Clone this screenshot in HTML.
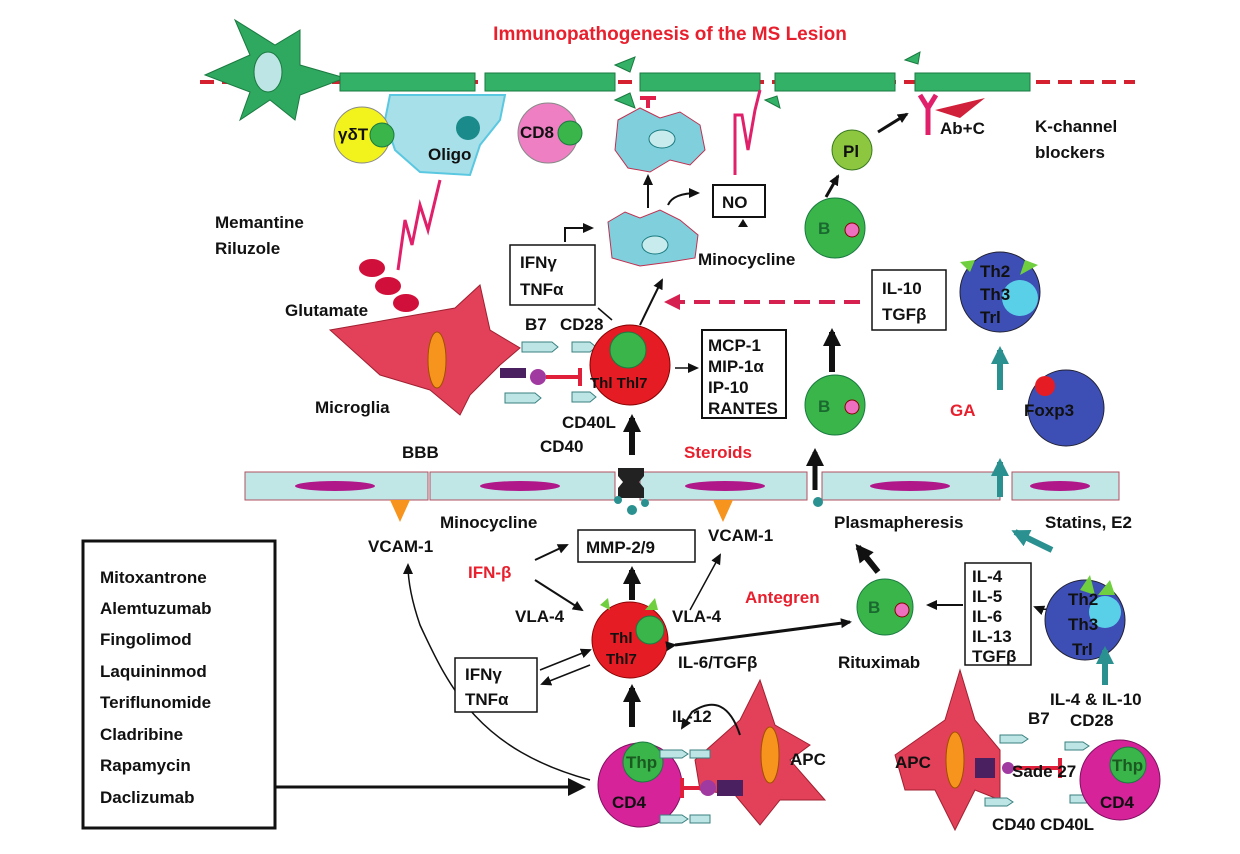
<!DOCTYPE html>
<html><head><meta charset="utf-8"><style>
html,body{margin:0;padding:0;background:#fff}
svg{display:block}
text{font-family:"Liberation Sans",sans-serif;font-weight:bold;font-size:17px;fill:#111}
.r{fill:#e8202e}
</style></head><body>
<svg width="1240" height="854" viewBox="0 0 1240 854" xmlns="http://www.w3.org/2000/svg">
<defs>
<marker id="a" markerUnits="userSpaceOnUse" markerWidth="12" markerHeight="12" refX="9" refY="6" orient="auto"><path d="M0,1 L11,6 L0,11 z" fill="#111"/></marker>
<marker id="b" markerUnits="userSpaceOnUse" markerWidth="20" markerHeight="20" refX="14" refY="10" orient="auto"><path d="M0,1 L18,10 L0,19 z" fill="#111"/></marker>
<marker id="c" markerUnits="userSpaceOnUse" markerWidth="20" markerHeight="20" refX="14" refY="10" orient="auto"><path d="M0,1 L18,10 L0,19 z" fill="#2a9090"/></marker>
</defs>
<text x="670" y="40" text-anchor="middle" class="r" style="font-size:19px">Immunopathogenesis of the MS Lesion</text>
<line x1="200" y1="82" x2="1135" y2="82" stroke="#d52030" stroke-width="4" stroke-dasharray="14,8"/>
<!-- neuron -->
<path d="M205,75 L250,55 L235,20 L275,45 L300,30 L300,65 L345,78 L300,95 L295,120 L270,100 L240,120 L250,92 Z" fill="#2fa860" stroke="#1a7a40"/>
<ellipse cx="268" cy="72" rx="14" ry="20" fill="#bde5e5" stroke="#1a7a40"/>
<g fill="#33b267" stroke="#1a7a40">
<rect x="340" y="73" width="135" height="18"/><rect x="485" y="73" width="130" height="18"/>
<rect x="640" y="73" width="120" height="18"/><rect x="775" y="73" width="120" height="18"/><rect x="915" y="73" width="115" height="18"/>
<path d="M615,65 l20,-8 l-5,15z M615,100 l20,8 l-5,-15z M765,100 l15,8 l-3,-12z M905,60 l15,-8 l-2,12z"/>
</g>
<!-- oligo -->
<path d="M390,95 L505,95 L500,120 L480,145 L470,175 L420,172 L395,150 L385,120 Z" fill="#a8e0ea" stroke="#5ac8e0" stroke-width="2"/>
<circle cx="468" cy="128" r="12" fill="#1a8a8a"/>
<text x="428" y="160">Oligo</text>
<circle cx="362" cy="135" r="28" fill="#f2f21c" stroke="#888"/>
<circle cx="382" cy="135" r="12" fill="#39b54a" stroke="#1a7a40"/>
<text x="338" y="140">γδT</text>
<circle cx="548" cy="133" r="30" fill="#ef7fc3" stroke="#888"/>
<circle cx="570" cy="133" r="12" fill="#39b54a" stroke="#1a7a40"/>
<text x="520" y="138">CD8</text>
<!-- macrophages -->
<path d="M618,120 L640,108 L660,118 L680,112 L700,125 L705,150 L690,165 L670,160 L650,172 L628,168 L615,150 Z" fill="#7fd0dc" stroke="#c03050"/>
<ellipse cx="662" cy="139" rx="13" ry="9" fill="#c8ecee" stroke="#1a7a80"/>
<path d="M648,108 v-10 h-8 h16" stroke="#e01f4a" stroke-width="4" fill="none"/>
<path d="M608,222 L625,212 L640,218 L660,210 L680,220 L698,235 L695,258 L670,262 L640,266 L612,258 Z" fill="#7fd0dc" stroke="#c03050"/>
<ellipse cx="655" cy="245" rx="13" ry="9" fill="#c8ecee" stroke="#1a7a80"/>
<line x1="648" y1="208" x2="648" y2="176" stroke="#111" stroke-width="2" marker-end="url(#a)"/>
<path d="M668,205 q5,-12 30,-12" stroke="#111" stroke-width="2" fill="none" marker-end="url(#a)"/>
<path d="M735,175 L735,115 L742,115 L748,150 L755,110 L760,90" stroke="#e0206a" stroke-width="3" fill="none"/>
<rect x="713" y="185" width="52" height="32" fill="#fff" stroke="#111" stroke-width="2"/>
<text x="722" y="208">NO</text>
<path d="M738,227 l5,-8 l5,8z" fill="#111"/>
<text x="698" y="265">Minocycline</text>
<!-- Pl, B -->
<circle cx="852" cy="150" r="20" fill="#8dc63f" stroke="#3a7a20"/>
<text x="843" y="157">Pl</text>
<line x1="878" y1="132" x2="907" y2="114" stroke="#111" stroke-width="3" marker-end="url(#a)"/>
<path d="M920,95 L928,108 L936,95 M928,108 V135" stroke="#e0206a" stroke-width="5" fill="none"/>
<path d="M935,110 L985,98 L960,118 Z" fill="#d0203a"/>
<text x="940" y="134">Ab+C</text>
<text x="1035" y="132">K-channel</text>
<text x="1035" y="158">blockers</text>
<circle cx="835" cy="228" r="30" fill="#39b54a" stroke="#1a7a40"/>
<circle cx="852" cy="230" r="7" fill="#ee6fbf" stroke="#800"/>
<text x="818" y="234" style="fill:#1a6a30">B</text>
<line x1="826" y1="197" x2="838" y2="176" stroke="#111" stroke-width="3" marker-end="url(#a)"/>
<!-- left side texts -->
<text x="215" y="228">Memantine</text>
<text x="215" y="254">Riluzole</text>
<path d="M398,270 L405,220 L412,245 L420,205 L428,230 L440,180" stroke="#e0206a" stroke-width="3" fill="none"/>
<ellipse cx="372" cy="268" rx="13" ry="9" fill="#d0103a"/>
<ellipse cx="388" cy="286" rx="13" ry="9" fill="#d0103a"/>
<ellipse cx="406" cy="303" rx="13" ry="9" fill="#d0103a"/>
<text x="285" y="316">Glutamate</text>
<!-- IFN box -->
<rect x="510" y="245" width="85" height="60" fill="#fff" stroke="#111" stroke-width="1.5"/>
<text x="520" y="268">IFNγ</text><text x="520" y="295">TNFα</text>
<path d="M565,242 V228 H592" stroke="#111" stroke-width="2" fill="none" marker-end="url(#a)"/>
<line x1="598" y1="308" x2="612" y2="320" stroke="#111" stroke-width="1.5"/>
<path d="M640,325 q12,-25 22,-45" stroke="#111" stroke-width="2" fill="none" marker-end="url(#a)"/>
<!-- microglia -->
<path d="M330,330 L455,308 L480,285 L490,330 L520,348 L500,365 L470,395 L460,415 L430,390 L380,375 Z" fill="#e3405a" stroke="#a02030"/>
<ellipse cx="437" cy="360" rx="9" ry="28" fill="#f7941d" stroke="#a05000"/>
<text x="315" y="413">Microglia</text>
<g fill="#bde5e5" stroke="#3a8080"><path d="M522,342 h30 l6,5 l-6,5 h-30z M572,342 h18 l6,5 l-6,5 h-18z M505,393 h30 l6,5 l-6,5 h-30z M572,392 h18 l6,5 l-6,5 h-18z"/></g>
<rect x="500" y="368" width="26" height="10" fill="#4a2060"/>
<circle cx="538" cy="377" r="8" fill="#a03aa0"/>
<path d="M546,377 H580 M580,368 V386" stroke="#e0203a" stroke-width="4"/>
<text x="525" y="330">B7</text><text x="560" y="330">CD28</text>
<circle cx="630" cy="365" r="40" fill="#e51c24" stroke="#800"/>
<circle cx="628" cy="350" r="18" fill="#39b54a" stroke="#1a7a40"/>
<text x="590" y="388" style="font-size:15px">Thl Thl7</text>
<text x="562" y="428">CD40L</text><text x="540" y="452">CD40</text>
<line x1="675" y1="368" x2="697" y2="368" stroke="#111" stroke-width="1.5" marker-end="url(#a)"/>
<rect x="702" y="330" width="84" height="88" fill="#fff" stroke="#111" stroke-width="2"/>
<text x="708" y="351">MCP-1</text><text x="708" y="372">MIP-1α</text><text x="708" y="393">IP-10</text><text x="708" y="414">RANTES</text>
<line x1="632" y1="455" x2="632" y2="418" stroke="#111" stroke-width="6" marker-end="url(#b)"/>
<!-- right mid -->
<line x1="860" y1="302" x2="676" y2="302" stroke="#d52050" stroke-width="4" stroke-dasharray="16,9"/>
<path d="M680,294 L664,302 L680,310z" fill="#d52050"/>
<rect x="872" y="270" width="74" height="60" fill="#fff" stroke="#111" stroke-width="1.5"/>
<text x="882" y="294">IL-10</text><text x="882" y="320">TGFβ</text>
<circle cx="1000" cy="292" r="40" fill="#3d4fb5" stroke="#223"/>
<circle cx="1020" cy="298" r="18" fill="#5ad0e8"/>
<path d="M960,262 l10,10 l5,-12 z M1025,260 l-5,15 l18,-10z" fill="#6fcf3f"/>
<text x="980" y="277">Th2</text><text x="980" y="300">Th3</text><text x="980" y="323">Trl</text>
<line x1="832" y1="372" x2="832" y2="332" stroke="#111" stroke-width="6" marker-end="url(#b)"/>
<circle cx="835" cy="405" r="30" fill="#39b54a" stroke="#1a7a40"/>
<circle cx="852" cy="407" r="7" fill="#ee6fbf" stroke="#800"/>
<text x="818" y="412" style="fill:#1a6a30">B</text>
<line x1="1000" y1="390" x2="1000" y2="350" stroke="#2a9090" stroke-width="6" marker-end="url(#c)"/>
<text x="950" y="416" class="r">GA</text>
<circle cx="1066" cy="408" r="38" fill="#3d4fb5" stroke="#223"/>
<circle cx="1045" cy="386" r="10" fill="#e51c24"/>
<text x="1024" y="416">Foxp3</text>
<text x="402" y="458">BBB</text>
<text x="684" y="458" class="r">Steroids</text>
<!-- BBB -->
<g fill="#c0e6e6" stroke="#b05060">
<rect x="245" y="472" width="183" height="28"/><rect x="430" y="472" width="185" height="28"/>
<rect x="640" y="472" width="167" height="28"/><rect x="822" y="472" width="178" height="28"/><rect x="1012" y="472" width="107" height="28"/>
</g>
<g fill="#b0188a"><ellipse cx="335" cy="486" rx="40" ry="5"/><ellipse cx="520" cy="486" rx="40" ry="5"/><ellipse cx="725" cy="486" rx="40" ry="5"/><ellipse cx="910" cy="486" rx="40" ry="5"/><ellipse cx="1060" cy="486" rx="30" ry="5"/></g>
<path d="M390,500 l10,22 l10,-22z M713,500 l10,22 l10,-22z" fill="#f7941d"/>
<path d="M618,468 h26 v8 l-5,6 l5,6 v10 h-26 v-10 l5,-6 l-5,-6z" fill="#222"/>
<g fill="#2a9090"><circle cx="632" cy="510" r="5"/><circle cx="618" cy="500" r="4"/><circle cx="645" cy="503" r="4"/><circle cx="818" cy="502" r="5"/></g>
<line x1="815" y1="490" x2="815" y2="452" stroke="#111" stroke-width="5" marker-end="url(#b)"/>
<line x1="1000" y1="497" x2="1000" y2="462" stroke="#2a9090" stroke-width="6" marker-end="url(#c)"/>
<text x="440" y="528">Minocycline</text>
<text x="368" y="552">VCAM-1</text>
<rect x="578" y="530" width="117" height="32" fill="#fff" stroke="#111" stroke-width="1.5"/>
<text x="586" y="553">MMP-2/9</text>
<text x="708" y="541">VCAM-1</text>
<text x="834" y="528">Plasmapheresis</text>
<text x="1045" y="528">Statins, E2</text>
<line x1="1052" y1="550" x2="1015" y2="532" stroke="#2a9090" stroke-width="6" marker-end="url(#c)"/>
<!-- drug box -->
<rect x="83" y="541" width="192" height="287" fill="#fff" stroke="#111" stroke-width="3"/>
<text x="100" y="583">Mitoxantrone</text><text x="100" y="614">Alemtuzumab</text><text x="100" y="645">Fingolimod</text><text x="100" y="677">Laquininmod</text><text x="100" y="708">Teriflunomide</text><text x="100" y="740">Cladribine</text><text x="100" y="771">Rapamycin</text><text x="100" y="803">Daclizumab</text>
<line x1="275" y1="787" x2="582" y2="787" stroke="#111" stroke-width="3" marker-end="url(#b)"/>
<!-- lower mid -->
<text x="468" y="578" class="r">IFN-β</text>
<line x1="535" y1="560" x2="567" y2="545" stroke="#111" stroke-width="2" marker-end="url(#a)"/>
<line x1="535" y1="580" x2="582" y2="610" stroke="#111" stroke-width="2" marker-end="url(#a)"/>
<line x1="632" y1="600" x2="632" y2="570" stroke="#111" stroke-width="6" marker-end="url(#b)"/>
<line x1="690" y1="610" x2="720" y2="555" stroke="#111" stroke-width="1.5" marker-end="url(#a)"/>
<path d="M590,780 C480,750 450,690 420,625 Q408,590 408,565" stroke="#111" stroke-width="1.5" fill="none" marker-end="url(#a)"/>
<text x="515" y="622">VLA-4</text>
<circle cx="630" cy="640" r="38" fill="#e51c24" stroke="#800"/>
<circle cx="650" cy="630" r="14" fill="#39b54a" stroke="#1a7a40"/>
<path d="M600,605 l10,5 l-2,-12z M645,610 l10,-12 l3,12z" fill="#6fcf3f"/>
<text x="610" y="643" style="font-size:15px">Thl</text><text x="606" y="664" style="font-size:15px">Thl7</text>
<text x="672" y="622">VLA-4</text>
<text x="745" y="603" class="r">Antegren</text>
<line x1="675" y1="645" x2="850" y2="622" stroke="#111" stroke-width="3" marker-end="url(#a)" marker-start="url(#a)"/>
<text x="678" y="668">IL-6/TGFβ</text>
<line x1="878" y1="572" x2="858" y2="547" stroke="#111" stroke-width="6" marker-end="url(#b)"/>
<circle cx="885" cy="607" r="28" fill="#39b54a" stroke="#1a7a40"/>
<circle cx="902" cy="610" r="7" fill="#ee6fbf" stroke="#800"/>
<text x="868" y="613" style="fill:#1a6a30">B</text>
<text x="838" y="668">Rituximab</text>
<line x1="963" y1="605" x2="928" y2="605" stroke="#111" stroke-width="2" marker-end="url(#a)"/>
<rect x="965" y="563" width="66" height="102" fill="#fff" stroke="#111" stroke-width="1.5"/>
<text x="972" y="582">IL-4</text><text x="972" y="602">IL-5</text><text x="972" y="622">IL-6</text><text x="972" y="642">IL-13</text><text x="972" y="662">TGFβ</text>
<path d="M1065,595 q-10,20 -30,12" stroke="#111" stroke-width="1.5" fill="none" marker-end="url(#a)"/>
<circle cx="1085" cy="620" r="40" fill="#3d4fb5" stroke="#223"/>
<circle cx="1105" cy="612" r="16" fill="#5ad0e8"/>
<path d="M1080,590 l15,5 l-5,-20z M1098,595 l12,-15 l5,15z" fill="#6fcf3f"/>
<text x="1068" y="605">Th2</text><text x="1068" y="630">Th3</text><text x="1072" y="655">Trl</text>
<line x1="1105" y1="685" x2="1105" y2="650" stroke="#2a9090" stroke-width="6" marker-end="url(#c)"/>
<rect x="455" y="658" width="82" height="54" fill="#fff" stroke="#111" stroke-width="1.5"/>
<text x="465" y="680">IFNγ</text><text x="465" y="705">TNFα</text>
<line x1="590" y1="665" x2="542" y2="684" stroke="#111" stroke-width="1.5" marker-end="url(#a)"/>
<line x1="540" y1="670" x2="590" y2="650" stroke="#111" stroke-width="1.5" marker-end="url(#a)"/>
<line x1="632" y1="727" x2="632" y2="688" stroke="#111" stroke-width="6" marker-end="url(#b)"/>
<!-- bottom left APC -->
<path d="M695,760 L740,720 L760,680 L775,725 L810,745 L790,760 L825,800 L780,800 L760,825 L735,795 L700,790 Z" fill="#e3405a" stroke="#a02030"/>
<ellipse cx="770" cy="755" rx="9" ry="28" fill="#f7941d" stroke="#a05000"/>
<text x="790" y="765">APC</text>
<text x="672" y="722">IL-12</text>
<path d="M740,735 Q725,690 692,712 L682,728" stroke="#111" stroke-width="2" fill="none" marker-end="url(#a)"/>
<circle cx="640" cy="785" r="42" fill="#d6239a" stroke="#801060"/>
<circle cx="643" cy="762" r="20" fill="#39b54a" stroke="#1a7a40"/>
<text x="626" y="768" style="fill:#1a5a20">Thp</text>
<text x="612" y="808">CD4</text>
<g fill="#bde5e5" stroke="#3a8080"><path d="M660,750 h22 l6,4 l-6,4 h-22z M690,750 h20 v8 h-20z M660,815 h22 l6,4 l-6,4 h-22z M690,815 h20 v8 h-20z"/></g>
<path d="M682,778 V798 M682,788 H700" stroke="#e0203a" stroke-width="4"/>
<circle cx="708" cy="788" r="8" fill="#a03aa0"/>
<rect x="717" y="780" width="26" height="16" fill="#4a2060"/>
<!-- bottom right APC -->
<path d="M895,755 L945,720 L960,670 L975,720 L1000,750 L1000,800 L975,790 L955,830 L935,790 L905,790 Z" fill="#e3405a" stroke="#a02030"/>
<ellipse cx="955" cy="760" rx="9" ry="28" fill="#f7941d" stroke="#a05000"/>
<text x="895" y="768">APC</text>
<rect x="975" y="758" width="20" height="20" fill="#4a2060"/>
<path d="M1005,768 H1060 M1060,758 V778" stroke="#e0203a" stroke-width="4"/>
<circle cx="1008" cy="768" r="6" fill="#a03aa0"/>
<g fill="#bde5e5" stroke="#3a8080"><path d="M1000,735 h22 l6,4 l-6,4 h-22z M1065,742 h18 l6,4 l-6,4 h-18z M985,798 h22 l6,4 l-6,4 h-22z M1070,795 h18 l6,4 l-6,4 h-18z"/></g>
<text x="1050" y="705">IL-4 &amp; IL-10</text>
<text x="1028" y="724">B7</text><text x="1070" y="726">CD28</text>
<text x="1012" y="777">Sade 27</text>
<circle cx="1120" cy="780" r="40" fill="#d6239a" stroke="#801060"/>
<circle cx="1128" cy="765" r="18" fill="#39b54a" stroke="#1a7a40"/>
<text x="1112" y="771" style="fill:#1a5a20">Thp</text>
<text x="1100" y="808">CD4</text>
<text x="992" y="830">CD40 CD40L</text>
</svg>
</body></html>
